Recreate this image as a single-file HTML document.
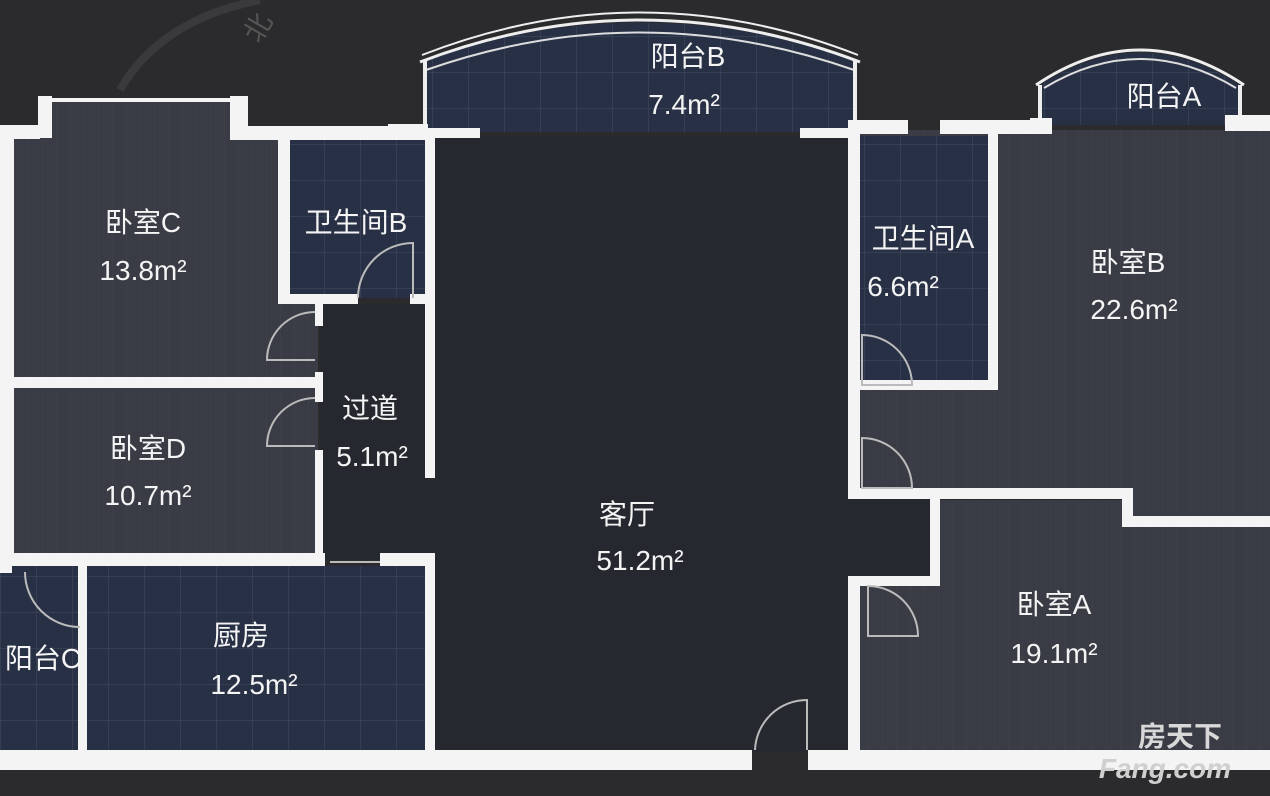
<!DOCTYPE html>
<html><head><meta charset="utf-8"><style>
html,body{margin:0;padding:0;background:#2b2b2d;}
svg{display:block}
text{font-family:"Liberation Sans","Noto Sans CJK SC",sans-serif;fill:#f4f4f4;font-size:28px;text-anchor:middle}
</style></head><body>
<svg width="1270" height="796" viewBox="0 0 1270 796" xmlns="http://www.w3.org/2000/svg">
<defs>
<pattern id="grid" width="36" height="36" patternUnits="userSpaceOnUse">
<rect width="36" height="36" fill="#283045"/>
<path d="M0 0H36M0 0V36" stroke="#3a4358" stroke-width="1.5"/>
</pattern>
<pattern id="wood" width="14" height="40" patternUnits="userSpaceOnUse">
<rect width="14" height="40" fill="#3a3c45"/>
<path d="M0 0V40" stroke="#42444d" stroke-width="1"/>
</pattern>
</defs>
<rect width="1270" height="796" fill="#2b2b2d"/>
<path d="M120 90 Q160 20 260 0" stroke="#3a3a3c" stroke-width="8" fill="none"/>
<text x="262" y="35" font-size="22" style="fill:#555" transform="rotate(-60 262 30)">北</text>

<rect x="52" y="100" width="182" height="280" fill="url(#wood)"/>
<rect x="12" y="138" width="270" height="242" fill="url(#wood)"/>
<rect x="270" y="300" width="48" height="80" fill="url(#wood)"/>
<rect x="12" y="388" width="306" height="166" fill="url(#wood)"/>
<rect x="288" y="140" width="138" height="158" fill="url(#grid)"/>
<rect x="320" y="304" width="108" height="250" fill="#25282f"/>
<rect x="87" y="566" width="338" height="185" fill="url(#grid)"/>
<rect x="0" y="566" width="80" height="185" fill="url(#grid)"/>
<rect x="435" y="136" width="415" height="616" fill="#25282f"/>
<rect x="318" y="480" width="120" height="80" fill="#25282f"/>
<rect x="850" y="496" width="90" height="80" fill="#25282f"/>
<rect x="858" y="130" width="412" height="365" fill="url(#wood)"/>
<rect x="858" y="136" width="134" height="248" fill="url(#grid)"/>
<rect x="1130" y="490" width="140" height="28" fill="url(#wood)"/>
<rect x="940" y="500" width="330" height="250" fill="url(#wood)"/>
<rect x="858" y="576" width="90" height="175" fill="url(#wood)"/>
<path d="M425 60 Q640 -15 855 60 L855 132 L425 132 Z" fill="url(#grid)"/>
<path d="M420 62 Q640 -22 860 62" stroke="#eee" stroke-width="3" fill="none"/>
<path d="M422 55 Q640 -30 858 55" stroke="#eee" stroke-width="2" fill="none"/>
<path d="M426 70 Q640 -5 854 70" stroke="#ddd" stroke-width="2" fill="none"/>
<path d="M425 60V132M855 60V132" stroke="#eee" stroke-width="4"/>
<path d="M1040 85 Q1140 20 1240 85 L1240 125 L1040 125 Z" fill="url(#grid)"/>
<path d="M1036 85 Q1140 15 1244 85" stroke="#eee" stroke-width="3" fill="none"/>
<path d="M1044 88 Q1140 30 1236 88" stroke="#ddd" stroke-width="2" fill="none"/>
<path d="M1040 85V125M1240 85V125" stroke="#eee" stroke-width="4"/>

<g fill="#f4f4f4">
<rect x="38" y="96" width="14" height="42"/>
<rect x="230" y="96" width="18" height="44"/>
<rect x="52" y="98" width="180" height="4"/>
<rect x="0" y="125" width="14" height="440"/>
<rect x="0" y="125" width="40" height="14"/>
<rect x="230" y="126" width="158" height="14"/>
<rect x="388" y="124" width="40" height="16"/>
<rect x="278" y="140" width="12" height="164"/>
<rect x="278" y="294" width="80" height="10"/>
<rect x="410" y="294" width="20" height="10"/>
<rect x="315" y="296" width="8" height="30"/>
<rect x="315" y="372" width="8" height="30"/>
<rect x="315" y="450" width="8" height="106"/>
<rect x="0" y="377" width="320" height="11"/>
<rect x="0" y="553" width="325" height="13"/>
<rect x="0" y="553" width="12" height="20"/>
<rect x="380" y="553" width="55" height="13"/>
<rect x="78" y="566" width="9" height="190"/>
<rect x="425" y="128" width="10" height="350"/>
<rect x="425" y="553" width="10" height="200"/>
<rect x="0" y="750" width="752" height="20"/>
<rect x="808" y="750" width="462" height="20"/>
<rect x="418" y="128" width="62" height="10"/>
<rect x="800" y="128" width="60" height="10"/>
<rect x="848" y="120" width="12" height="375"/>
<rect x="848" y="120" width="60" height="14"/>
<rect x="940" y="120" width="110" height="14"/>
<rect x="1030" y="118" width="22" height="16"/>
<rect x="1225" y="115" width="45" height="16"/>
<rect x="988" y="134" width="10" height="256"/>
<rect x="858" y="380" width="140" height="10"/>
<rect x="848" y="488" width="285" height="11"/>
<rect x="930" y="488" width="10" height="90"/>
<rect x="848" y="576" width="92" height="10"/>
<rect x="848" y="576" width="12" height="180"/>
<rect x="1122" y="488" width="11" height="38"/>
<rect x="1122" y="516" width="148" height="11"/>
</g>
<g stroke="#bbb" stroke-width="2" fill="none">
<path d="M358 298 A55 55 0 0 1 413 243 V298"/>
<path d="M315 312 A48 48 0 0 0 267 360 H315"/>
<path d="M315 398 A48 48 0 0 0 267 446 H315"/>
<path d="M862 335 A50 50 0 0 1 912 385 H862Z"/>
<path d="M862 438 A50 50 0 0 1 912 488 H862Z"/>
<path d="M868 586 A50 50 0 0 1 918 636 H868Z"/>
<path d="M755 750 A52 52 0 0 1 807 700 V750"/>
<path d="M25 572 A55 55 0 0 0 80 627"/>
<path d="M330 562 H380"/>
</g>
<text x="143" y="232">卧室C</text><text x="143" y="280">13.8m²</text>
<text x="356" y="232">卫生间B</text>
<text x="370" y="418">过道</text><text x="372" y="466">5.1m²</text>
<text x="148" y="458">卧室D</text><text x="148" y="505">10.7m²</text>
<text x="241" y="645">厨房</text><text x="254" y="694">12.5m²</text>
<text x="43" y="668">阳台C</text>
<text x="688" y="66">阳台B</text><text x="684" y="114">7.4m²</text>
<text x="1164" y="106">阳台A</text>
<text x="923" y="248">卫生间A</text><text x="903" y="296">6.6m²</text>
<text x="1128" y="272">卧室B</text><text x="1134" y="319">22.6m²</text>
<text x="627" y="524">客厅</text><text x="640" y="570">51.2m²</text>
<text x="1054" y="614">卧室A</text><text x="1054" y="663">19.1m²</text>
<text x="1180" y="746" font-size="22" style="fill:#d8d8d8;font-weight:bold">房天下</text>
<text x="1165" y="778" font-size="46" style="fill:#cfcfcf;font-weight:bold;font-style:italic">Fang.com</text>
</svg>
</body></html>
